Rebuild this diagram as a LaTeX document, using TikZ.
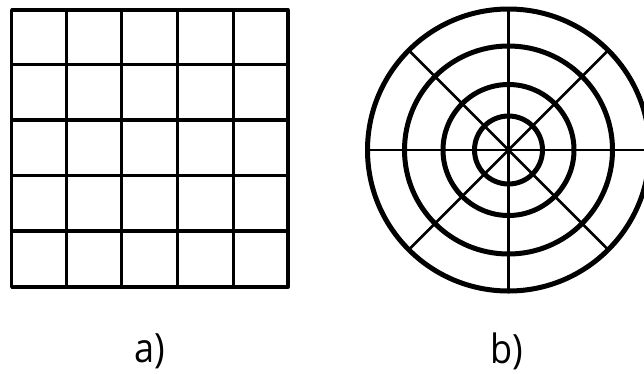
\documentclass[tikz,border=0pt]{standalone}
\usepackage{fontspec}
\setmainfont{Open Sans}
\begin{document}
\begin{tikzpicture}[x=1pt,y=-1pt,
  gridline/.style={line width=3.3pt,line cap=round,line join=round},
  ring/.style={line width=5pt},
  spoke/.style={line width=2.6pt},
  lab/.style={font=\fontsize{36}{40}\selectfont,inner sep=0pt,yscale=1.12}]
\useasboundingbox (0,0) rectangle (644,373);
\clip (0,0) rectangle (644,373);
% grid a)
\draw[gridline] (11.7,10) rectangle (288,287);
\foreach \x in {66.7,121.7,177.3,233.3} \draw[gridline] (\x,10) -- (\x,287);
\foreach \y in {64.3,120,175.7,231} \draw[gridline] (11.7,\y) -- (288,\y);
% polar b)
\coordinate (c) at (508.5,150);
\foreach \a in {0,45,...,315} \draw[spoke] (c) -- ++(\a:141);
\foreach \r in {141,104,65.5,34} \draw[ring] (c) circle[radius=\r];
\node[lab] (la) at (150,351) {a)};
\node[lab] (lb) at (507,351) {b)};
\end{tikzpicture}
\end{document}
